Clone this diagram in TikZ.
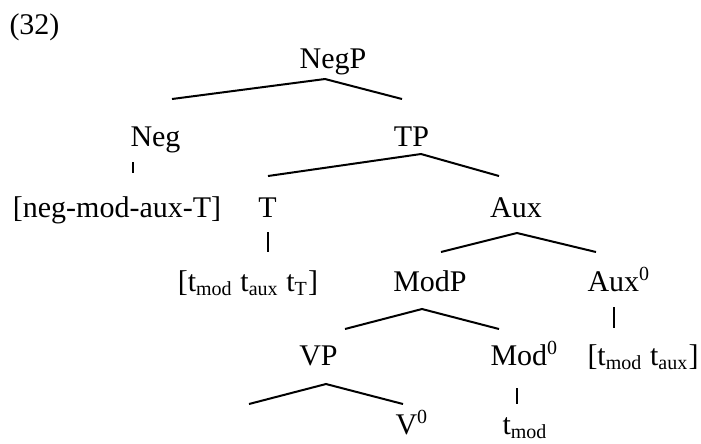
\documentclass[tikz,border=0pt]{standalone}
\usepackage{fontspec}
\setmainfont{Liberation Serif}
\tikzstyle{cat}=[anchor=base,inner sep=0pt]
\tikzstyle{catw}=[anchor=base west,inner sep=0pt]
\tikzstyle{branch}=[line width=0.8pt]
\newcommand{\tr}[1]{t\textsubscript{#1}}
\newcommand{\fork}[7]{% Syntax: {name}{left end}{apex}{right end}
  \coordinate (#1-l) at (#2,#3);
  \coordinate (#1-a) at (#4,#5);
  \coordinate (#1-r) at (#6,#7);
  \draw[branch] (#1-l) -- (#1-a) -- (#1-r);
}
\newcommand{\stem}[4]{% Syntax: {name}{x}{top}{bottom}
  \coordinate (#1-t) at (#2,#3);
  \coordinate (#1-b) at (#2,#4);
  \draw[branch] (#1-t) -- (#1-b);
}
\begin{document}
\begin{tikzpicture}[x=0.4pt,y=-0.4pt,font=\fontsize{12}{14.4}\selectfont]
\useasboundingbox (0,0) rectangle (701,443);
\node[catw] (ex) at (9,34) {(32)};
% labels, row by row
\node[cat] (negp) at (333,68) {NegP};
\node[cat] (neg) at (155.5,146) {Neg};
\node[cat] (tp) at (411.5,146) {TP};
\node[cat] (negword) at (117,217) {[neg-mod-aux-T]};
\node[cat] (t) at (267.5,217) {T};
\node[cat] (aux) at (516,217) {Aux};
\node[cat] (ttrace) at (248,291) {[\tr{mod} \tr{aux} \tr{T}]};
\node[cat] (modp) at (430,291) {ModP};
\node[catw] (aux0) at (587,291) {Aux\textsuperscript{0}};
\node[cat] (vp) at (318.5,365) {VP};
\node[catw] (mod0) at (490,365) {Mod\textsuperscript{0}};
\node[catw] (auxtrace) at (587,365) {[\tr{mod} \tr{aux}]};
\node[catw] (v0) at (395,434) {V\textsuperscript{0}};
\node[catw] (modtrace) at (502,434) {\tr{mod}};
% branches
\fork{negp}{172}{99}{325}{79}{402}{99}
\fork{tp}{268}{176}{421}{154}{499}{176}
\fork{aux}{441}{252}{517}{233}{596}{252}
\fork{modp}{345}{329}{422}{309}{499}{329}
\fork{vp}{249}{404}{326}{384}{403}{404}
\stem{neg}{133}{162}{173}
\stem{t}{268}{232}{252}
\stem{aux0}{614}{307}{328}
\stem{mod0}{517}{388}{404}
\end{tikzpicture}
\end{document}
